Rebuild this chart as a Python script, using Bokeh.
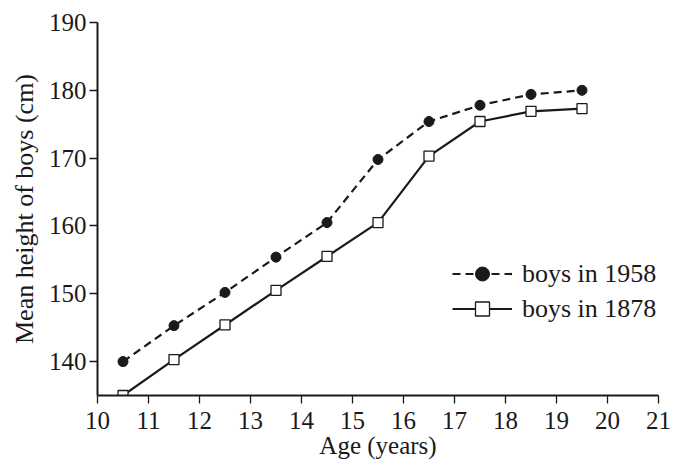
from bokeh.plotting import figure
from bokeh.models import Range1d, FixedTicker, Legend, LegendItem, ColumnDataSource
from bokeh.embed import file_html
from bokeh.resources import INLINE

ages = [10.5, 11.5, 12.5, 13.5, 14.5, 15.5, 16.5, 17.5, 18.5, 19.5]
boys_1958 = [140.0, 145.3, 150.2, 155.4, 160.5, 169.8, 175.4, 177.8, 179.4, 180.0]
boys_1878 = [135.0, 140.3, 145.4, 150.5, 155.5, 160.5, 170.3, 175.4, 176.9, 177.3]
x_ticks = list(range(10, 22))
y_ticks = [140, 150, 160, 170, 180, 190]
labels = ["boys in 1958", "boys in 1878"]

FONT = "Liberation Serif"
INK = "#1a1a1a"

p = figure(width=676, height=461, output_backend="svg", toolbar_location=None,
           x_range=Range1d(10, 21), y_range=Range1d(135, 190),
           min_border_left=97, min_border_right=18, min_border_top=22, min_border_bottom=65)
p.outline_line_color = None
p.xgrid.visible = False
p.ygrid.visible = False

src = ColumnDataSource(dict(age=ages, h58=boys_1958, h78=boys_1878))

l58 = p.line("age", "h58", source=src, line_color=INK, line_width=2.2, line_dash="8 5")
s58 = p.scatter("age", "h58", source=src, marker="circle", size=10, fill_color=INK, line_color=INK)
l78 = p.line("age", "h78", source=src, line_color=INK, line_width=2.2)
s78 = p.scatter("age", "h78", source=src, marker="square", size=10, fill_color="white", line_color=INK, line_width=1.3)

for ax in (p.xaxis, p.yaxis):
    ax.axis_line_width = 2
    ax.axis_line_color = INK
    ax.major_tick_line_color = INK
    ax.major_tick_line_width = 1.3
    ax.major_tick_out = 8
    ax.major_tick_in = 0
    ax.minor_tick_line_color = None
    ax.major_label_text_font = FONT
    ax.major_label_text_font_size = "25px"
    ax.major_label_text_color = INK
    ax.axis_label_text_font = FONT
    ax.axis_label_text_font_style = "normal"
    ax.axis_label_text_color = INK

p.xaxis.ticker = FixedTicker(ticks=x_ticks)
p.yaxis.ticker = FixedTicker(ticks=y_ticks)
p.xaxis.axis_label = "Age (years)"
p.yaxis.axis_label = "Mean height of boys (cm)"
p.xaxis.axis_label_text_font_size = "25px"
p.yaxis.axis_label_text_font_size = "26px"
p.xaxis.major_label_standoff = 8
p.yaxis.major_label_standoff = 3
p.xaxis.axis_label_standoff = 0
p.yaxis.axis_label_standoff = 7

legend = Legend(items=[LegendItem(label=labels[0], renderers=[l58, s58]),
                       LegendItem(label=labels[1], renderers=[l78, s78])],
                location=(355, 69), border_line_color=None, background_fill_alpha=0,
                glyph_width=60, glyph_height=35, label_height=35, spacing=0, padding=0, margin=0,
                label_text_font=FONT, label_text_font_size="26px", label_text_color=INK,
                label_standoff=10)
p.add_layout(legend)

open("out.html", "w").write(file_html(p, INLINE))
